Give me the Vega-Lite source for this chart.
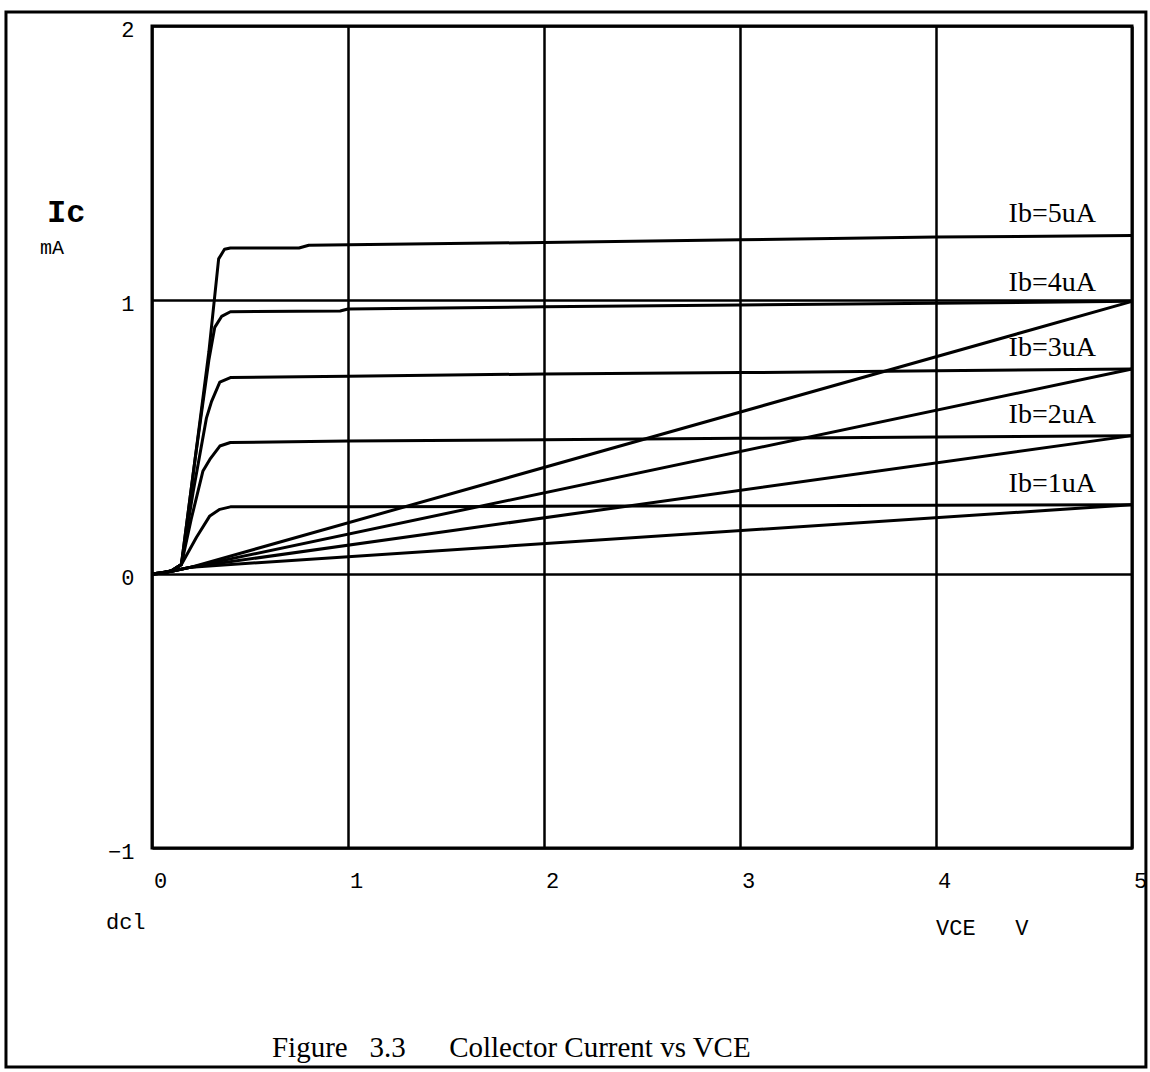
{
  "$schema": "https://vega.github.io/schema/vega-lite/v6.json",
  "width": 980,
  "height": 822,
  "autosize": {"type": "none"},
  "padding": {"left": 152, "top": 26, "right": 18, "bottom": 224},
  "background": "white",
  "config": {
    "view": {"stroke": "black", "strokeWidth": 3},
    "axis": {
      "domain": false,
      "ticks": false,
      "grid": true,
      "gridColor": "black",
      "gridWidth": 2.5,
      "gridOpacity": 1,
      "labelFont": "Liberation Mono",
      "labelFontSize": 22,
      "labelColor": "black",
      "labelFlush": false,
      "labelOverlap": false,
      "title": null
    }
  },
  "datasets": {
    "curves": [
      {"s": "Ib5", "v": 0, "i": 0}, {"s": "Ib5", "v": 0.05, "i": 0.003}, {"s": "Ib5", "v": 0.1, "i": 0.012}, {"s": "Ib5", "v": 0.15, "i": 0.035},
      {"s": "Ib5", "v": 0.22, "i": 0.42}, {"s": "Ib5", "v": 0.29, "i": 0.81}, {"s": "Ib5", "v": 0.34, "i": 1.15}, {"s": "Ib5", "v": 0.37, "i": 1.185},
      {"s": "Ib5", "v": 0.4, "i": 1.19}, {"s": "Ib5", "v": 0.75, "i": 1.19}, {"s": "Ib5", "v": 0.8, "i": 1.2}, {"s": "Ib5", "v": 2, "i": 1.21},
      {"s": "Ib5", "v": 3, "i": 1.22}, {"s": "Ib5", "v": 4, "i": 1.23}, {"s": "Ib5", "v": 5, "i": 1.235},

      {"s": "Ib4", "v": 0, "i": 0}, {"s": "Ib4", "v": 0.05, "i": 0.003}, {"s": "Ib4", "v": 0.1, "i": 0.012}, {"s": "Ib4", "v": 0.15, "i": 0.035},
      {"s": "Ib4", "v": 0.22, "i": 0.42}, {"s": "Ib4", "v": 0.29, "i": 0.78}, {"s": "Ib4", "v": 0.32, "i": 0.9}, {"s": "Ib4", "v": 0.355, "i": 0.94},
      {"s": "Ib4", "v": 0.4, "i": 0.957}, {"s": "Ib4", "v": 0.96, "i": 0.96}, {"s": "Ib4", "v": 1.0, "i": 0.967}, {"s": "Ib4", "v": 2, "i": 0.975},
      {"s": "Ib4", "v": 3, "i": 0.982}, {"s": "Ib4", "v": 4, "i": 0.988}, {"s": "Ib4", "v": 5, "i": 0.995},

      {"s": "Ib3", "v": 0, "i": 0}, {"s": "Ib3", "v": 0.05, "i": 0.003}, {"s": "Ib3", "v": 0.1, "i": 0.012}, {"s": "Ib3", "v": 0.15, "i": 0.035},
      {"s": "Ib3", "v": 0.21, "i": 0.3}, {"s": "Ib3", "v": 0.278, "i": 0.57}, {"s": "Ib3", "v": 0.304, "i": 0.63}, {"s": "Ib3", "v": 0.346, "i": 0.7},
      {"s": "Ib3", "v": 0.4, "i": 0.717}, {"s": "Ib3", "v": 1, "i": 0.722}, {"s": "Ib3", "v": 2, "i": 0.73}, {"s": "Ib3", "v": 3, "i": 0.735},
      {"s": "Ib3", "v": 4, "i": 0.742}, {"s": "Ib3", "v": 5, "i": 0.748},

      {"s": "Ib2", "v": 0, "i": 0}, {"s": "Ib2", "v": 0.05, "i": 0.003}, {"s": "Ib2", "v": 0.1, "i": 0.012}, {"s": "Ib2", "v": 0.15, "i": 0.035},
      {"s": "Ib2", "v": 0.2, "i": 0.2}, {"s": "Ib2", "v": 0.26, "i": 0.376}, {"s": "Ib2", "v": 0.295, "i": 0.418}, {"s": "Ib2", "v": 0.346, "i": 0.467},
      {"s": "Ib2", "v": 0.4, "i": 0.48}, {"s": "Ib2", "v": 1, "i": 0.485}, {"s": "Ib2", "v": 2, "i": 0.49}, {"s": "Ib2", "v": 3, "i": 0.495},
      {"s": "Ib2", "v": 4, "i": 0.5}, {"s": "Ib2", "v": 5, "i": 0.505},

      {"s": "Ib1", "v": 0, "i": 0}, {"s": "Ib1", "v": 0.05, "i": 0.003}, {"s": "Ib1", "v": 0.1, "i": 0.012}, {"s": "Ib1", "v": 0.15, "i": 0.035},
      {"s": "Ib1", "v": 0.227, "i": 0.134}, {"s": "Ib1", "v": 0.295, "i": 0.212}, {"s": "Ib1", "v": 0.346, "i": 0.236},
      {"s": "Ib1", "v": 0.4, "i": 0.245}, {"s": "Ib1", "v": 1, "i": 0.245}, {"s": "Ib1", "v": 2, "i": 0.247}, {"s": "Ib1", "v": 3, "i": 0.249},
      {"s": "Ib1", "v": 4, "i": 0.251}, {"s": "Ib1", "v": 5, "i": 0.253},

      {"s": "L4", "v": 0, "i": 0}, {"s": "L4", "v": 0.1, "i": 0.01}, {"s": "L4", "v": 0.2, "i": 0.025}, {"s": "L4", "v": 5, "i": 0.995},
      {"s": "L3", "v": 0, "i": 0}, {"s": "L3", "v": 0.1, "i": 0.01}, {"s": "L3", "v": 0.2, "i": 0.025}, {"s": "L3", "v": 5, "i": 0.748},
      {"s": "L2", "v": 0, "i": 0}, {"s": "L2", "v": 0.1, "i": 0.01}, {"s": "L2", "v": 0.2, "i": 0.025}, {"s": "L2", "v": 5, "i": 0.505},
      {"s": "L1", "v": 0, "i": 0}, {"s": "L1", "v": 0.1, "i": 0.01}, {"s": "L1", "v": 0.2, "i": 0.025}, {"s": "L1", "v": 5, "i": 0.253}
    ],
    "ibLabels": [
      {"t": "Ib=5uA", "v": 4.816, "i": 1.314},
      {"t": "Ib=4uA", "v": 4.816, "i": 1.062},
      {"t": "Ib=3uA", "v": 4.816, "i": 0.825},
      {"t": "Ib=2uA", "v": 4.816, "i": 0.58},
      {"t": "Ib=1uA", "v": 4.816, "i": 0.328}
    ]
  },
  "layer": [
    {
      "data": {"values": [{"x1": -0.745, "x2": 5.071, "y1": 2.051, "y2": -1.799}]},
      "mark": {"type": "rect", "fill": null, "fillOpacity": 0, "stroke": "black", "strokeWidth": 3},
      "encoding": {
        "x": {"field": "x1", "type": "quantitative", "scale": {"domain": [0, 5], "nice": false, "zero": false},
              "axis": {"values": [0, 1, 2, 3, 4, 5], "format": "d", "labelOffset": 8, "labelPadding": 22, "labelBaseline": "top"}},
        "x2": {"field": "x2"},
        "y": {"field": "y1", "type": "quantitative", "scale": {"domain": [-1, 2], "nice": false, "zero": false},
              "axis": {"values": [-1, 0, 1, 2], "labelOffset": 3, "labelPadding": 18, "labelBaseline": "middle", "format": "d"}},
        "y2": {"field": "y2"}
      }
    },
    {
      "data": {"name": "curves"},
      "mark": {"type": "line", "color": "black", "strokeWidth": 3, "strokeJoin": "round"},
      "encoding": {
        "x": {"field": "v", "type": "quantitative"},
        "y": {"field": "i", "type": "quantitative"},
        "detail": {"field": "s"}
      }
    },
    {
      "data": {"name": "ibLabels"},
      "mark": {"type": "text", "font": "Liberation Serif", "fontSize": 28, "align": "right", "baseline": "middle", "color": "black"},
      "encoding": {
        "x": {"field": "v", "type": "quantitative"},
        "y": {"field": "i", "type": "quantitative"},
        "text": {"field": "t"}
      }
    },
    {
      "data": {"values": [{"t": "Figure\u00a0\u00a0\u00a03.3\u00a0\u00a0\u00a0\u00a0\u00a0\u00a0Collector Current vs VCE", "v": 0.612, "i": -1.73}]},
      "mark": {"type": "text", "font": "Liberation Serif", "fontSize": 29, "align": "left", "baseline": "middle", "color": "black"},
      "encoding": {
        "x": {"field": "v", "type": "quantitative"},
        "y": {"field": "i", "type": "quantitative"},
        "text": {"field": "t"}
      }
    },
    {
      "data": {"values": [{"t": "Ic", "v": -0.536, "i": 1.321}]},
      "mark": {"type": "text", "font": "Liberation Mono", "fontSize": 32, "fontWeight": "bold", "align": "left", "baseline": "middle", "color": "black"},
      "encoding": {
        "x": {"field": "v", "type": "quantitative"},
        "y": {"field": "i", "type": "quantitative"},
        "text": {"field": "t"}
      }
    },
    {
      "data": {"values": [{"t": "mA", "v": -0.571, "i": 1.19}]},
      "mark": {"type": "text", "font": "Liberation Mono", "fontSize": 20, "align": "left", "baseline": "middle", "color": "black"},
      "encoding": {
        "x": {"field": "v", "type": "quantitative"},
        "y": {"field": "i", "type": "quantitative"},
        "text": {"field": "t"}
      }
    },
    {
      "data": {"values": [{"t": "dcl", "v": -0.235, "i": -1.27}, {"t": "VCE\u00a0\u00a0\u00a0V", "v": 4.0, "i": -1.292}]},
      "mark": {"type": "text", "font": "Liberation Mono", "fontSize": 22, "align": "left", "baseline": "middle", "color": "black"},
      "encoding": {
        "x": {"field": "v", "type": "quantitative"},
        "y": {"field": "i", "type": "quantitative"},
        "text": {"field": "t"}
      }
    }
  ]
}
